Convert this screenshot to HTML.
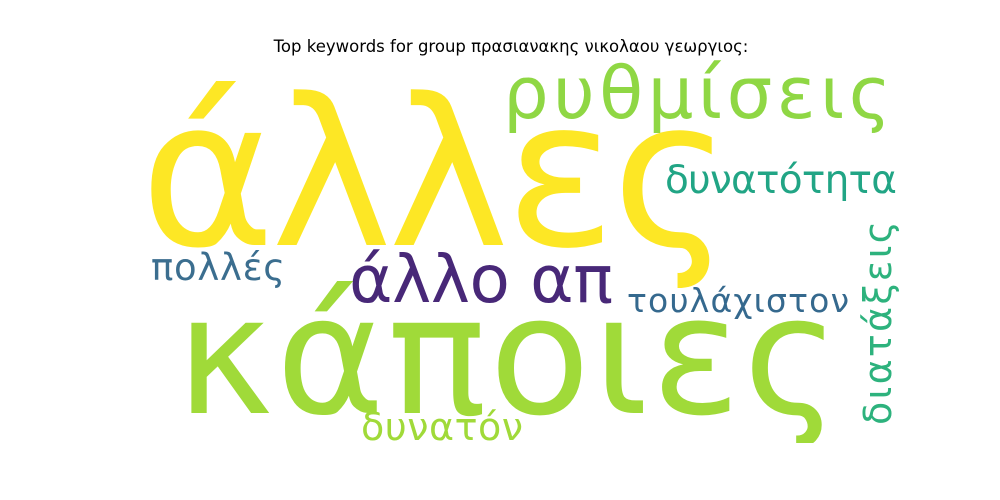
<!DOCTYPE html>
<html><head><meta charset="utf-8"><style>
html,body{margin:0;padding:0;background:#fff;}
svg{display:block}
text{font-family:"DejaVu Sans","Liberation Sans",sans-serif;}
</style></head><body>
<svg width="1000" height="500" viewBox="0 0 1000 500">
<defs><clipPath id="cl"><rect x="0" y="0" width="1000" height="443"/></clipPath></defs>
<rect width="1000" height="500" fill="#fff"/>
<text x="511" y="52" text-anchor="middle" font-size="16.5" fill="#000">Top keywords for group πρασιανακης νικολαου γεωργιος:</text>
<g clip-path="url(#cl)">
<text x="140" y="245" font-size="205" fill="#fde725" textLength="592" lengthAdjust="spacing">άλλες</text>
<text x="176" y="413" font-size="165" fill="#a0da39" textLength="664" lengthAdjust="spacing">κάποιες</text>
</g>
<text x="503" y="118" font-size="72" fill="#8fd744" textLength="388" lengthAdjust="spacing">ρυθμίσεις</text>
<text x="665" y="193" font-size="39" fill="#21a585" textLength="232" lengthAdjust="spacing">δυνατότητα</text>
<text x="151" y="280" font-size="37" fill="#3b6e8f" textLength="134" lengthAdjust="spacing">πολλές</text>
<text x="349" y="302" font-size="66" fill="#482878" textLength="264" lengthAdjust="spacing">άλλο απ</text>
<text x="627" y="312" font-size="33" fill="#35698e" textLength="222" lengthAdjust="spacing">τουλάχιστον</text>
<text x="361" y="440" font-size="38" fill="#a0da39" textLength="162" lengthAdjust="spacing">δυνατόν</text>
<text x="0" y="0" transform="translate(891,425) rotate(-90)" font-size="38" fill="#2db27d" textLength="204" lengthAdjust="spacing">διατάξεις</text>
</svg>
</body></html>
